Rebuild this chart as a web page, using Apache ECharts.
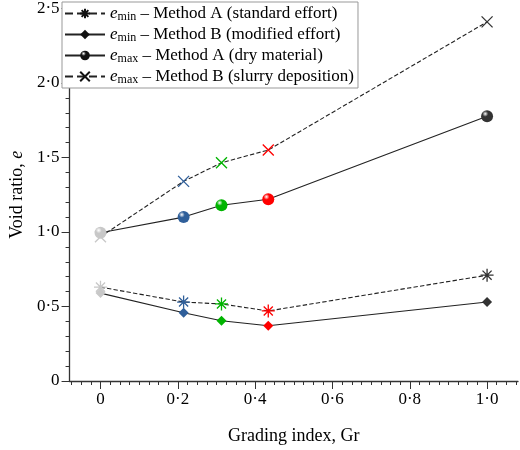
<!DOCTYPE html>
<html><head><meta charset="utf-8">
<script src="https://cdn.jsdelivr.net/npm/echarts@6/dist/echarts.min.js"></script>
<style>html,body{margin:0;background:#fff}#chart{width:520px;height:450px}</style>
</head><body><div id="chart"></div>
<script>
const grading = [0, 0.215, 0.313, 0.434, 1.0];
const pointColors = ["#c8c8c8", "#2f5f9a", "#00b400", "#ff0000", "#333333"];
const eminA = [0.63, 0.53, 0.517, 0.47, 0.71];
const eminB = [0.59, 0.458, 0.404, 0.371, 0.53];
const emaxA = [0.995, 1.10, 1.18, 1.22, 1.777];
const emaxB = [0.968, 1.34, 1.465, 1.55, 2.41];
const xTicks = [0, 0.2, 0.4, 0.6, 0.8, 1.0];
const yTicks = [0, 0.5, 1.0, 1.5, 2.0, 2.5];

const font = "Liberation Serif";
const asterisk = "path://M5,0L5,10M0,5L10,5M1.5,1.5L8.5,8.5M8.5,1.5L1.5,8.5";
const cross = "path://M0,0L10,10M10,0L0,10";
const fmt = (v) => (v === 0 ? "0" : v.toFixed(1).replace(".", "·"));

function ballColor(c) {
  return new echarts.graphic.RadialGradient(0.35, 0.3, 0.7, [
    { offset: 0, color: "#ffffff" },
    { offset: 0.35, color: c },
    { offset: 1, color: c },
  ]);
}

function styleFor(kind, c) {
  if (kind === "ball") return { color: ballColor(c), borderWidth: 0 };
  if (kind === "fill") return { color: c, borderWidth: 0 };
  return { color: "transparent", borderColor: c, borderWidth: 1.3 };
}

function makeData(values, kind) {
  return values.map((v, i) => ({ value: [grading[i], v], itemStyle: styleFor(kind, pointColors[i]) }));
}

function minorTicks() {
  const out = [];
  for (let i = -3; i <= 43; i++) out.push(Math.round(i * 25) / 1000);
  return out;
}
function yMinor() {
  const out = [];
  for (let i = 0; i <= 25; i++) out.push(i / 10);
  return out;
}

const rich = {
  i: { fontFamily: font, fontStyle: "italic", fontSize: 17, color: "#000" },
  s: { fontFamily: font, fontSize: 12, color: "#000", verticalAlign: "bottom", padding: [7, 0, 0, 0] },
  t: { fontFamily: font, fontSize: 17, color: "#000" },
};
const legendText = {
  a: "{i|e}{s|min}{t| – Method A (standard effort)}",
  b: "{i|e}{s|min}{t| – Method B (modified effort)}",
  c: "{i|e}{s|max}{t| – Method A (dry material)}",
  d: "{i|e}{s|max}{t| – Method B (slurry deposition)}",
};

const line = (name, data, type, symbol, size, kind) => ({
  name, type: "line", data: makeData(data, kind), symbol, symbolSize: size,
  lineStyle: { color: "#222", width: 1.1, type },
  itemStyle: styleFor(kind, "#111"),
  z: 3,
});

const chart = echarts.init(document.getElementById("chart"));
chart.setOption({
  animation: false,
  grid: { left: 60, right: 2, top: 7, bottom: 66 },
  legend: {
    left: 62, top: 2, orient: "vertical", itemGap: 3, itemWidth: 40, itemHeight: 12,
    backgroundColor: "#fff", borderColor: "#999", borderWidth: 1, padding: [3, 4, 2, 2],
    formatter: (n) => legendText[n],
    textStyle: { rich },
    data: ["a", "b", "c", "d"],
  },
  xAxis: [
    {
      type: "value", min: -0.08, max: 1.08,
      name: "Grading index, Gr", nameLocation: "middle", nameGap: 46,
      nameTextStyle: { fontFamily: font, fontSize: 18, color: "#000" },
      axisLine: { onZero: false, lineStyle: { color: "#333", width: 1.3 } },
      axisTick: { customValues: xTicks, length: 8, lineStyle: { color: "#333" } },
      axisLabel: { customValues: xTicks, formatter: fmt, fontFamily: font, fontSize: 17, color: "#000", margin: 10 },
      splitLine: { show: false },
    },
    {
      type: "value", min: -0.08, max: 1.08, position: "bottom",
      axisLine: { show: false, onZero: false },
      axisTick: { customValues: minorTicks(), length: 4, lineStyle: { color: "#333" } },
      axisLabel: { show: false }, splitLine: { show: false },
    },
  ],
  yAxis: [
    {
      type: "value", min: 0, max: 2.5,
      name: "{t|Void ratio, }{i|e}", nameLocation: "middle", nameGap: 40, nameRotate: 90,
      nameTextStyle: { rich: { t: { fontFamily: font, fontSize: 18, color: "#000" }, i: { fontFamily: font, fontSize: 18, fontStyle: "italic", color: "#000" } } },
      axisLine: { show: true, onZero: false, lineStyle: { color: "#333", width: 1.3 } },
      axisTick: { customValues: yTicks, length: 8, lineStyle: { color: "#333" } },
      axisLabel: { customValues: yTicks, formatter: fmt, fontFamily: font, fontSize: 17, color: "#000", margin: 10 },
      splitLine: { show: false },
    },
    {
      type: "value", min: 0, max: 2.5, position: "left",
      axisLine: { show: false, onZero: false },
      axisTick: { customValues: yMinor(), length: 4, lineStyle: { color: "#333" } },
      axisLabel: { show: false }, splitLine: { show: false },
    },
  ],
  series: [
    line("a", eminA, "dashed", asterisk, 13, "stroke"),
    line("b", eminB, "solid", "diamond", 10, "fill"),
    line("c", emaxA, "solid", "circle", 12, "ball"),
    line("d", emaxB, "dashed", cross, 11, "stroke"),
  ],
});
</script></body></html>
